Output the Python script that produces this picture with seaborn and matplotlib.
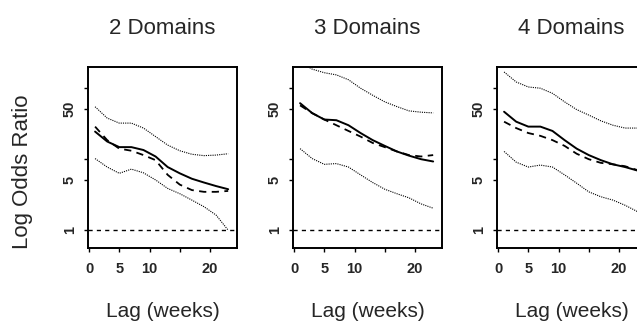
import matplotlib
matplotlib.use("Agg")
import matplotlib.pyplot as plt
import pandas as pd
import seaborn as sns

# Lag in weeks for every curve
lags = [1, 3, 5, 7, 9, 11, 13, 15, 17, 19, 21, 23]

# Panel titles
titles = ["2 Domains", "3 Domains", "4 Domains"]

# Odds ratios (log scale axis)
upper_2 = [53.7, 37.2, 31.6, 31.6, 26.9, 20.4, 15.5, 12.9, 11.5, 11.0, 11.2, 11.7]
fit_2 = [24.0, 17.4, 14.5, 14.5, 13.2, 10.7, 7.6, 6.2, 5.2, 4.6, 4.1, 3.7]
alt_2 = [28.2, 18.2, 13.8, 12.9, 11.2, 9.5, 5.9, 4.3, 3.6, 3.4, 3.4, 3.5]
lower_2 = [10.0, 7.6, 6.2, 7.1, 6.3, 5.0, 3.8, 3.2, 2.6, 2.1, 1.6, 0.98]

upper_3 = [229, 182, 162, 151, 129, 98, 78, 63, 54, 47, 45, 44]
fit_3 = [60.3, 43.7, 35.5, 34.7, 29.5, 22.9, 18.2, 15.1, 12.6, 11.0, 9.8, 9.1]
alt_3 = [56.2, 43.7, 35.5, 29.5, 24.5, 20.4, 16.6, 14.5, 12.6, 11.2, 10.7, 11.2]
lower_3 = [13.8, 10.0, 8.3, 8.5, 7.6, 5.9, 4.6, 3.7, 3.2, 2.8, 2.3, 2.0]

upper_4 = [166, 120, 102, 98, 83, 63, 49, 41, 34, 29.5, 26.9, 26.9]
fit_4 = [45.7, 33.1, 28.2, 28.2, 24.5, 18.2, 13.8, 11.2, 9.5, 8.3, 7.6, 6.8]
alt_4 = [33.1, 26.9, 22.9, 20.9, 18.2, 15.1, 11.7, 9.8, 8.7, 8.3, 7.8, 6.9]
lower_4 = [12.6, 8.9, 7.6, 8.1, 7.6, 5.9, 4.5, 3.4, 2.9, 2.6, 2.2, 1.8]

# Axis ticks
x_ticks = [0, 5, 10, 15, 20]
x_tick_labels = ["0", "5", "10", "", "20"]
y_ticks = [1, 5, 10, 50, 100]
y_tick_labels = ["1", "5", "", "50", ""]
null_value = 1

panels = [
    (upper_2, fit_2, alt_2, lower_2),
    (upper_3, fit_3, alt_3, lower_3),
    (upper_4, fit_4, alt_4, lower_4),
]

sns.set_style("ticks")
plt.rcParams["font.family"] = ["Liberation Sans", "DejaVu Sans"]

fig = plt.figure(figsize=(6.37, 3.25), dpi=100)
lefts = [88 / 637, 293 / 637, 497 / 637]
width = 149 / 637
bottom = 77 / 325
height = 181 / 325

for i, (upper, fit, alt, lower) in enumerate(panels):
    ax = fig.add_axes([lefts[i], bottom, width, height])

    sns.lineplot(x=lags, y=upper, ax=ax, color="black", linestyle=(0, (1, 1)), linewidth=0.8)
    sns.lineplot(x=lags, y=lower, ax=ax, color="black", linestyle=(0, (1, 1)), linewidth=0.8)
    sns.lineplot(x=lags, y=alt, ax=ax, color="black", linestyle=(0, (4, 3)), linewidth=1.3)
    sns.lineplot(x=lags, y=fit, ax=ax, color="black", linestyle="-", linewidth=1.4)
    ax.axhline(null_value, color="black", linestyle=(0, (3, 3)), linewidth=1.0)

    ax.set_yscale("log")
    ax.set_ylim(0.55, 195)
    ax.set_xlim(-0.17, 24.46)

    ax.set_xticks(x_ticks)
    ax.set_xticklabels(x_tick_labels, fontsize=10.5, fontweight="bold")
    ax.set_yticks(y_ticks)
    ax.set_yticklabels(y_tick_labels, fontsize=10.5, fontweight="bold",
                       rotation=90, va="center")
    ax.minorticks_off()
    ax.tick_params(axis="x", length=3, width=1, pad=7, color="black")
    ax.tick_params(axis="y", length=3, width=1, pad=5, color="black")

    for side in ["top", "right", "bottom", "left"]:
        ax.spines[side].set_visible(True)
        ax.spines[side].set_linewidth(1.4)
        ax.spines[side].set_color("black")

    ax.set_title(titles[i], fontsize=16, pad=24)
    ax.set_xlabel("Lag (weeks)", fontsize=15, labelpad=19)
    if i == 0:
        ax.set_ylabel("Log Odds Ratio", fontsize=16)
        ax.yaxis.set_label_coords(-0.37, 0.42)

fig.savefig("out.png", dpi=100)
plt.close(fig)
